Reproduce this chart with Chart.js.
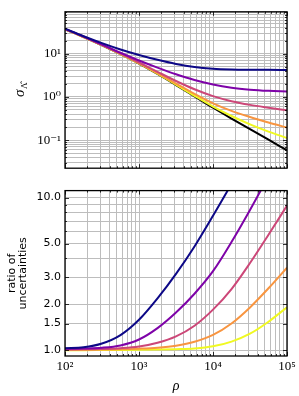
<!DOCTYPE html>
<html>
<head>
<meta charset="utf-8">
<script src="https://cdn.jsdelivr.net/npm/chart.js@4.4.1/dist/chart.umd.min.js"></script>
<style>
  html, body { margin: 0; padding: 0; background: #fff; }
  #wrap { position: relative; width: 299px; height: 396px; }
  canvas { position: absolute; left: 0; }
  #sigma-chart { top: 0; }
  #ratio-chart { top: 180px; }
</style>
</head>
<body>
<div id="wrap">
  <canvas id="sigma-chart" width="299" height="180"></canvas>
  <canvas id="ratio-chart" width="299" height="216"></canvas>
</div>
<script>
// rho sampled every quarter decade
const rho = [100, 178, 316, 562, 1000, 1778, 3162, 5623, 10000, 17783, 31623, 56234, 100000];

// top panel: sigma
const sigmaBlack  = [36.6, 24.2, 15.6, 9.73, 5.89, 3.39, 1.88, 1.03, 0.562, 0.316, 0.179, 0.102, 0.0582];
const sigmaYellow = [36.7, 24.3, 15.7, 9.8, 5.94, 3.43, 1.92, 1.06, 0.598, 0.361, 0.231, 0.157, 0.112];
const sigmaOrange = [36.9, 24.4, 15.8, 9.9, 6.05, 3.54, 2.03, 1.17, 0.71, 0.475, 0.343, 0.256, 0.195];
const sigmaPink   = [37.1, 24.6, 15.9, 10.06, 6.25, 3.80, 2.33, 1.50, 1.04, 0.794, 0.653, 0.562, 0.49];
const sigmaPurple = [37.5, 24.9, 16.3, 10.5, 6.95, 4.75, 3.33, 2.45, 1.93, 1.63, 1.47, 1.38, 1.33];
const sigmaNavy   = [37.8, 25.3, 17.5, 12.5, 9.33, 7.21, 5.79, 4.93, 4.50, 4.32, 4.25, 4.22, 4.20];

// bottom panel: ratio of uncertainties
const ratioYellow = [1.005, 1.005, 1.006, 1.007, 1.009, 1.013, 1.019, 1.030, 1.064, 1.143, 1.288, 1.542, 1.919];
const ratioOrange = [1.009, 1.010, 1.013, 1.017, 1.027, 1.043, 1.075, 1.139, 1.263, 1.501, 1.912, 2.55, 3.48];
const ratioPink   = [1.015, 1.017, 1.022, 1.034, 1.06, 1.122, 1.236, 1.452, 1.849, 2.52, 3.73, 5.71, 8.85];
const ratioPurple = [1.025, 1.03, 1.042, 1.079, 1.18, 1.40, 1.77, 2.35, 3.30, 5.12, 8.30, 13.8, 23.4];
const ratioNavy   = [1.034, 1.048, 1.11, 1.26, 1.587, 2.19, 3.17, 4.79, 7.6, 12.3, 20.4, 34.3, 58.3];

// ticks
const xTicks = [100, 200, 300, 400, 500, 600, 700, 800, 900,
  1000, 2000, 3000, 4000, 5000, 6000, 7000, 8000, 9000,
  10000, 20000, 30000, 40000, 50000, 60000, 70000, 80000, 90000, 100000];
const xLabelValues = [100, 1000, 10000, 100000];
const xLabels = ['10²', '10³', '10⁴', '10⁵'];

const sigmaTicks = [0.03, 0.04, 0.05, 0.06, 0.07, 0.08, 0.09,
  0.1, 0.2, 0.3, 0.4, 0.5, 0.6, 0.7, 0.8, 0.9,
  1, 2, 3, 4, 5, 6, 7, 8, 9, 10, 20, 30, 40, 50, 60, 70, 80, 90];
const sigmaLabelValues = [0.1, 1, 10];
const sigmaLabels = ['10⁻¹', '10⁰', '10¹'];

const ratioTicks = [1, 1.5, 2, 3, 4, 5, 6, 7, 8, 9, 10];
const ratioLabelValues = [1, 1.5, 2, 3, 5, 10];
const ratioLabels = ['1.0', '1.5', '2.0', '3.0', '5.0', '10.0'];

const colors = ['#0d0887', '#7e03a8', '#cc4778', '#f89540', '#f0f921'];
const GRID = '#bdbdbd';
const SERIF = '"Liberation Serif", "DejaVu Serif", serif';
const SANS = '"DejaVu Sans", sans-serif';

function series(ys, color) {
  return {
    data: rho.map((r, i) => ({ x: r, y: ys[i] })),
    borderColor: color,
    borderWidth: 2,
    pointRadius: 0,
    cubicInterpolationMode: 'monotone',
    fill: false
  };
}

function labelIndex(values, v) {
  return values.findIndex(u => Math.abs(u - v) / u < 1e-6);
}

function fixedTicks(list, majors) {
  return scale => {
    scale.ticks = list.map(v => ({ value: v, major: labelIndex(majors, v) >= 0 }));
  };
}

function xAxis(showLabels) {
  return {
    type: 'logarithmic',
    min: 100,
    max: 100000,
    afterBuildTicks: fixedTicks(xTicks, xLabelValues),
    afterFit: s => { s.height = showLabels ? 40 : 4; },
    grid: { color: GRID, lineWidth: 1, drawTicks: false },
    border: { display: false },
    ticks: {
      display: showLabels,
      autoSkip: false,
      maxRotation: 0,
      padding: 3,
      color: '#000',
      font: { family: SERIF, size: 13 },
      callback: v => { const k = labelIndex(xLabelValues, v); return k >= 0 ? xLabels[k] : ''; }
    },
    title: {
      display: showLabels,
      text: 'ρ',
      color: '#000',
      font: { family: SERIF, size: 14, style: 'italic' },
      padding: { top: 0, bottom: 1 }
    }
  };
}

// inward tick marks on all four sides + frame
const frame = {
  id: 'frame',
  afterDraw(chart) {
    const { ctx, chartArea: a } = chart;
    const xs = chart.scales.x, ys = chart.scales.y;
    ctx.save();
    ctx.strokeStyle = '#000';
    ctx.lineWidth = 0.8;
    ctx.beginPath();
    xs.ticks.forEach(t => {
      const p = Math.round(xs.getPixelForValue(t.value)) + 0.5;
      const len = t.major ? 4 : 2;
      ctx.moveTo(p, a.bottom); ctx.lineTo(p, a.bottom - len);
      ctx.moveTo(p, a.top); ctx.lineTo(p, a.top + len);
    });
    ys.ticks.forEach(t => {
      const p = Math.round(ys.getPixelForValue(t.value)) + 0.5;
      const len = t.major ? 4 : 2;
      ctx.moveTo(a.left, p); ctx.lineTo(a.left + len, p);
      ctx.moveTo(a.right, p); ctx.lineTo(a.right - len, p);
    });
    ctx.stroke();
    ctx.lineWidth = 1.3;
    ctx.strokeRect(a.left, a.top, a.right - a.left, a.bottom - a.top);
    ctx.restore();
  }
};

// sigma with hat-Lambda subscript, rotated
const sigmaTitle = {
  id: 'sigmaTitle',
  afterDraw(chart) {
    const ctx = chart.ctx;
    ctx.save();
    ctx.translate(20, 90);
    ctx.rotate(-Math.PI / 2);
    ctx.fillStyle = '#000';
    ctx.textBaseline = 'alphabetic';
    ctx.textAlign = 'left';
    ctx.font = 'italic 15px ' + SERIF;
    ctx.fillText('σ', -7, 4);
    ctx.font = '9px ' + SERIF;
    ctx.fillText('Λ̂', 1, 7);
    ctx.restore();
  }
};

const base = {
  type: 'line',
  options: {
    responsive: false,
    animation: false,
    devicePixelRatio: 1,
    plugins: { legend: { display: false }, tooltip: { enabled: false } }
  }
};

new Chart(document.getElementById('sigma-chart'), {
  ...base,
  data: {
    datasets: [
      series(sigmaNavy, colors[0]),
      series(sigmaPurple, colors[1]),
      series(sigmaPink, colors[2]),
      series(sigmaOrange, colors[3]),
      series(sigmaYellow, colors[4]),
      series(sigmaBlack, '#000000')
    ]
  },
  options: {
    ...base.options,
    layout: { padding: { left: 0, right: 12, top: 7, bottom: 0 } },
    scales: {
      x: xAxis(false),
      y: {
        type: 'logarithmic',
        min: 0.0224,
        max: 93,
        afterBuildTicks: fixedTicks(sigmaTicks, sigmaLabelValues),
        afterFit: s => { s.width = 65; },
        grid: { color: GRID, lineWidth: 1, drawTicks: false },
        border: { display: false },
        ticks: {
          autoSkip: false,
          padding: 4,
          color: '#000',
          font: { family: SERIF, size: 13 },
          callback: v => { const k = labelIndex(sigmaLabelValues, v); return k >= 0 ? sigmaLabels[k] : ''; }
        }
      }
    }
  },
  plugins: [frame, sigmaTitle]
});

new Chart(document.getElementById('ratio-chart'), {
  ...base,
  data: {
    datasets: [
      series(ratioNavy, colors[0]),
      series(ratioPurple, colors[1]),
      series(ratioPink, colors[2]),
      series(ratioOrange, colors[3]),
      series(ratioYellow, colors[4])
    ]
  },
  options: {
    ...base.options,
    layout: { padding: { left: 0, right: 12, top: 6, bottom: 0 } },
    scales: {
      x: xAxis(true),
      y: {
        type: 'logarithmic',
        min: 0.92,
        max: 11.1,
        afterBuildTicks: fixedTicks(ratioTicks, ratioLabelValues),
        afterFit: s => { s.width = 65; },
        grid: { color: GRID, lineWidth: 1, drawTicks: false },
        border: { display: false },
        ticks: {
          autoSkip: false,
          padding: 4,
          color: '#000',
          font: { family: SANS, size: 11 },
          callback: v => { const k = labelIndex(ratioLabelValues, v); return k >= 0 ? ratioLabels[k] : ''; }
        },
        title: {
          display: true,
          text: ['ratio of', 'uncertainties'],
          color: '#000',
          font: { family: SANS, size: 11, lineHeight: 1.05 },
          padding: { top: 6, bottom: 0 }
        }
      }
    }
  },
  plugins: [frame]
});
</script>
</body>
</html>
